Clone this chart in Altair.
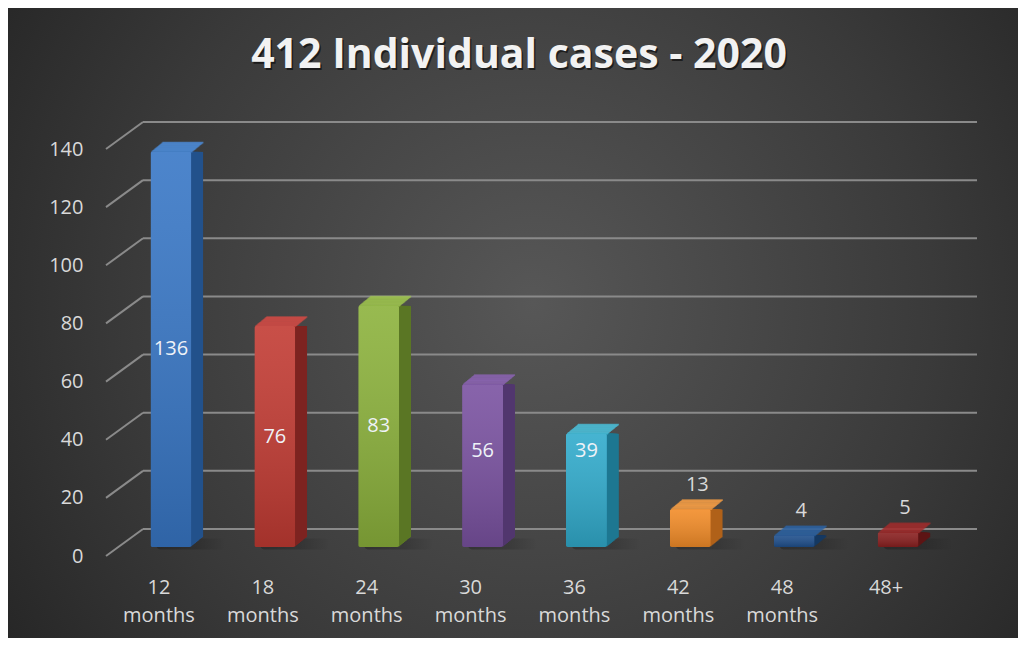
import altair as alt
import pandas as pd

# ---- data ----
categories = ["12 months", "18 months", "24 months", "30 months",
              "36 months", "42 months", "48 months", "48+"]
cases = [136, 76, 83, 56, 39, 13, 4, 5]
y_ticks = [0, 20, 40, 60, 80, 100, 120, 140]
title_text = "412 Individual cases - 2020"

front_colors = ["#3877c6", "#c23b33", "#8cb23c", "#7a52a1",
                "#31abcc", "#f28c28", "#1f4f8c", "#8a2020"]
side_colors = ["#23528c", "#7d2420", "#5a7625", "#51366e",
               "#1e7891", "#b0621a", "#153862", "#5e1515"]
top_colors = ["#4d8ddb", "#d44c44", "#a0c64e", "#8c64b4",
              "#4cc0dc", "#faa044", "#2c62a2", "#a22c2c"]

df = pd.DataFrame({"cat": categories, "v": cases})
grid_df = pd.DataFrame({"g": y_ticks})
one = pd.DataFrame({"a": [0]})

W, H = 831, 407
PAD = {"left": 111, "top": 132, "right": 68, "bottom": 91}

y_scale = alt.Scale(domain=[0, 140], nice=False, zero=True)
x_axis = alt.Axis(title=None, labelExpr="split(datum.label, ' ')",
                  labelLineHeight=28, labelPadding=30, labelOffset=-12,
                  labelAngle=0, zindex=2, domain=False, ticks=False, grid=False)
y_axis = alt.Axis(title=None, values=y_ticks, labelPadding=36, labelOffset=9,
                  zindex=2, domain=False, ticks=False, grid=False)
x_enc = alt.X("cat:N", sort=categories, scale=alt.Scale(paddingInner=0, paddingOuter=0),
              axis=x_axis)
y_enc = alt.Y("v:Q", scale=y_scale, axis=y_axis)

def col(rng):
    return alt.Color("cat:N", scale=alt.Scale(domain=categories, range=rng), legend=None)

# background radial gradient covering the whole chart
bg = alt.Chart(one).mark_rect(
    fill={"gradient": "radial", "x1": 0.52, "y1": 0.48, "r1": 0,
          "x2": 0.52, "y2": 0.48, "r2": 0.72,
          "stops": [{"offset": 0, "color": "#575757"},
                    {"offset": 0.55, "color": "#3a3a3a"},
                    {"offset": 1, "color": "#1e1e1e"}]}
).encode(x=alt.value(-PAD["left"]), x2=alt.value(W + PAD["right"]),
         y=alt.value(-PAD["top"]), y2=alt.value(H + PAD["bottom"]))

# 3D gridlines: back wall + diagonal
back_grid = alt.Chart(grid_df).mark_rule(color="#8a8a8a", strokeWidth=2, yOffset=-18).encode(
    x=alt.value(24), x2=alt.value(858), y=alt.Y("g:Q", scale=y_scale, axis=y_axis))
diag_grid = alt.Chart(grid_df).mark_rule(color="#8a8a8a", strokeWidth=2,
                                         yOffset=9, y2Offset=-18).encode(
    x=alt.value(-13), x2=alt.value(24),
    y=alt.Y("g:Q", scale=y_scale, axis=y_axis), y2="g:Q")

base = alt.Chart(df)

# soft floor shadow
shadow = base.mark_tick(
    thickness=11, size=70, xOffset=20, yOffset=-3, cornerRadius=5,
    fill={"gradient": "linear", "x1": 0, "y1": 0, "x2": 1, "y2": 0,
          "stops": [{"offset": 0, "color": "rgba(0,0,0,0.35)"},
                    {"offset": 0.6, "color": "rgba(0,0,0,0.22)"},
                    {"offset": 1, "color": "rgba(0,0,0,0)"}]}
).encode(x=x_enc, y=alt.datum(0, scale=y_scale))

layers = [bg, back_grid, diag_grid, shadow]

DEPTH = 12
for k in range(DEPTH, 0, -1):
    dy = -0.82 * k
    layers.append(base.mark_bar(width=41, xOffset=k, yOffset=dy, cornerRadius=1).encode(
        x=x_enc, y=y_enc, color=col(side_colors)))
    layers.append(base.mark_tick(size=41, thickness=1.6, xOffset=k, yOffset=dy + 0.8).encode(
        x=x_enc, y=alt.Y("v:Q", scale=y_scale, axis=y_axis), color=col(top_colors)))

front = base.mark_bar(width=41, cornerRadius=2).encode(x=x_enc, y=y_enc, color=col(front_colors))
shade = base.mark_bar(width=41, cornerRadius=2, fill={
    "gradient": "linear", "x1": 0, "y1": 0, "x2": 0, "y2": 1,
    "stops": [{"offset": 0, "color": "rgba(255,255,255,0.10)"},
              {"offset": 1, "color": "rgba(0,0,0,0.16)"}]}).encode(x=x_enc, y=y_enc)
layers += [front, shade]

inside = base.transform_filter("datum.v >= 33").transform_calculate(
    ly="max(datum.v / 2, 33)").mark_text(
    font="Open Sans", fontSize=20, color="#eef2f8", baseline="middle").encode(
    x=x_enc, y=alt.Y("ly:Q", scale=y_scale, axis=y_axis), text="v:Q")
above = base.transform_filter("datum.v < 33").mark_text(
    font="Open Sans", fontSize=20, color="#d9d9d9", baseline="middle", dx=7, dy=-24).encode(
    x=x_enc, y=alt.Y("v:Q", scale=y_scale, axis=y_axis), text="v:Q")
layers += [inside, above]

title_shadow = alt.Chart(one).mark_text(
    text=title_text, font="Open Sans", fontWeight="bold", fontSize=41,
    color="#000000", opacity=0.55, baseline="alphabetic", align="center").encode(
    x=alt.value(401.5), y=alt.value(-70))
title = alt.Chart(one).mark_text(
    text=title_text, font="Open Sans", fontWeight="bold", fontSize=41,
    color="#f2f2f2", baseline="alphabetic", align="center").encode(
    x=alt.value(400), y=alt.value(-72))
layers += [title_shadow, title]

chart = alt.layer(*layers).resolve_scale(color="independent").properties(
    width=W, height=H, padding=PAD,
    autosize=alt.AutoSizeParams(type="none"),
    background="#2a2a2a",
).configure_view(stroke=None).configure_axis(
    labelColor="#d9d9d9", labelFont="Open Sans", labelFontSize=20,
)

chart.save("out.html", embed_options={"renderer": "svg", "actions": False})
